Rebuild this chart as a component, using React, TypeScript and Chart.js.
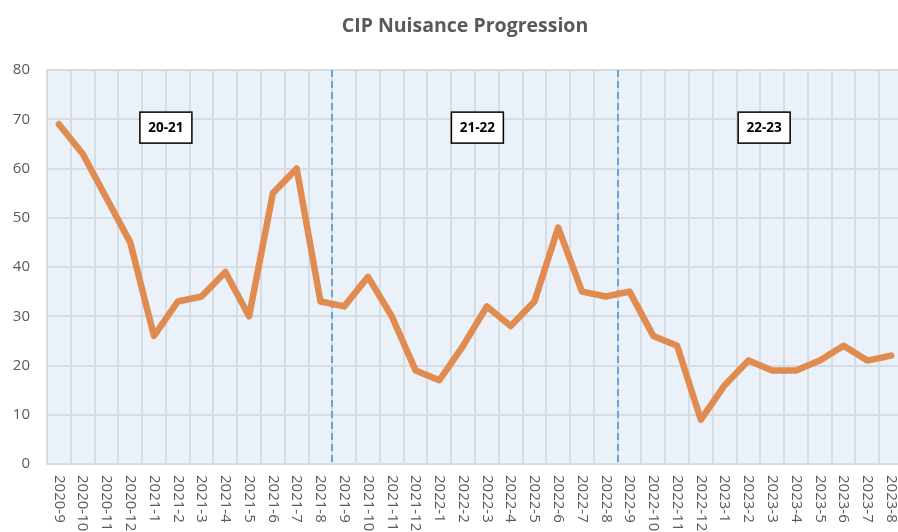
import React, { useEffect, useRef } from "react";
import { Chart, registerables } from "chart.js";

Chart.register(...registerables);

const chartTitle = "CIP Nuisance Progression";

const months: string[] = [
  "2020-9", "2020-10", "2020-11", "2020-12",
  "2021-1", "2021-2", "2021-3", "2021-4", "2021-5", "2021-6", "2021-7", "2021-8",
  "2021-9", "2021-10", "2021-11", "2021-12",
  "2022-1", "2022-2", "2022-3", "2022-4", "2022-5", "2022-6", "2022-7", "2022-8",
  "2022-9", "2022-10", "2022-11", "2022-12",
  "2023-1", "2023-2", "2023-3", "2023-4", "2023-5", "2023-6", "2023-7", "2023-8",
];

const nuisance: number[] = [
  69, 63, 54, 45,
  26, 33, 34, 39, 30, 55, 60, 33,
  32, 38, 30, 19,
  17, 24, 32, 28, 33, 48, 35, 34,
  35, 26, 24, 9,
  16, 21, 19, 19, 21, 24, 21, 22,
];

const seasonLabels: string[] = ["20-21", "21-22", "22-23"];
// category index (fractional) where each season label sits
const seasonLabelAt: number[] = [4.5, 17.6, 29.66];
const seasonLabelValue = 68.3;
// boundaries between seasons (between 2021-8/2021-9 and 2022-8/2022-9)
const seasonBreaks: number[] = [11.5, 23.5];

const yTicksMin = 0;
const yTicksMax = 80;
const yStep = 10;

const TEXT = "#595959";
const GRID = "#D5DCE4";
const PLOT_BG = "#EAF1F9";
const LINE = "#E08B50";
const DIVIDER = "#6AA3DA";

export default function App() {
  const ref = useRef<HTMLCanvasElement | null>(null);

  useEffect(() => {
    if (!ref.current) return;

    const bgPlugin = {
      id: "plotBg",
      beforeDraw(chart: any) {
        const { ctx, chartArea } = chart;
        ctx.save();
        ctx.fillStyle = PLOT_BG;
        ctx.fillRect(chartArea.left, chartArea.top, chartArea.right - chartArea.left, chartArea.bottom - chartArea.top);
        // title, centred as in the original (over the full chart frame)
        ctx.fillStyle = TEXT;
        ctx.font = "bold 19.5px 'Open Sans'";
        ctx.textAlign = "center";
        ctx.textBaseline = "middle";
        ctx.fillText(chartTitle, 465, 26);
        ctx.restore();
      },
    };

    const dividerPlugin = {
      id: "dividers",
      beforeDatasetsDraw(chart: any) {
        const { ctx, chartArea, scales } = chart;
        ctx.save();
        ctx.strokeStyle = DIVIDER;
        ctx.lineWidth = 2;
        ctx.setLineDash([7, 4]);
        for (const b of seasonBreaks) {
          const x = Math.round(scales.x.getPixelForValue(b));
          ctx.beginPath();
          ctx.moveTo(x, chartArea.top);
          ctx.lineTo(x, chartArea.bottom);
          ctx.stroke();
        }
        ctx.restore();
      },
    };

    const labelsPlugin = {
      id: "labelsAndBoxes",
      afterDraw(chart: any) {
        const { ctx, chartArea, scales } = chart;
        ctx.save();
        // rotated x labels (reading top to bottom)
        ctx.fillStyle = TEXT;
        ctx.font = "15px 'Open Sans'";
        ctx.textAlign = "left";
        ctx.textBaseline = "middle";
        months.forEach((m, i) => {
          const x = scales.x.getPixelForValue(i);
          ctx.save();
          ctx.translate(x, chartArea.bottom + 11);
          ctx.rotate(Math.PI / 2);
          ctx.fillText(m, 0, 0);
          ctx.restore();
        });
        // season boxes
        seasonLabels.forEach((t, i) => {
          const cx = scales.x.getPixelForValue(seasonLabelAt[i]);
          const cy = scales.y.getPixelForValue(seasonLabelValue);
          const w = 52;
          const h = 31;
          ctx.fillStyle = "#FFFFFF";
          ctx.fillRect(cx - w / 2, cy - h / 2, w, h);
          ctx.strokeStyle = "#000000";
          ctx.lineWidth = 1.5;
          ctx.strokeRect(cx - w / 2, cy - h / 2, w, h);
          ctx.fillStyle = "#000000";
          ctx.font = "bold 13.5px 'Open Sans'";
          ctx.textAlign = "center";
          ctx.textBaseline = "middle";
          ctx.fillText(t, cx, cy + 1);
        });
        ctx.restore();
      },
    };

    const chart = new Chart(ref.current, {
      type: "line",
      data: {
        labels: months,
        datasets: [
          {
            label: "CIP Nuisance",
            data: nuisance,
            borderColor: LINE,
            backgroundColor: LINE,
            borderWidth: 6.5,
            pointRadius: 0,
            pointHoverRadius: 0,
            tension: 0,
            borderJoinStyle: "round",
            borderCapStyle: "round",
          },
        ],
      },
      options: {
        responsive: false,
        animation: false,
        devicePixelRatio: 1,
        layout: { padding: { left: 0, right: 27, top: 70, bottom: 0 } },
        plugins: {
          legend: { display: false },
          tooltip: { enabled: false },
          title: { display: false },
        },
        scales: {
          x: {
            type: "category",
            offset: true,
            grid: { offset: true, color: GRID, lineWidth: 2, drawTicks: false },
            border: { color: GRID, width: 2 },
            ticks: { display: false },
            afterFit: (s: any) => {
              s.height = 68;
            },
          },
          y: {
            min: yTicksMin,
            max: yTicksMax,
            ticks: {
              stepSize: yStep,
              color: TEXT,
              font: { family: "'Open Sans'", size: 15 },
              padding: 17,
            },
            grid: { color: GRID, lineWidth: 2, drawTicks: false },
            border: { color: GRID, width: 2 },
            afterFit: (s: any) => {
              s.width = 47;
            },
          },
        },
      },
      plugins: [bgPlugin, dividerPlugin, labelsPlugin],
    });

    return () => chart.destroy();
  }, []);

  return (
    <div
      style={{
        position: "fixed",
        left: 0,
        top: 0,
        width: 898,
        height: 532,
        overflow: "hidden",
        background: "#FFFFFF",
      }}
    >
      <canvas ref={ref} width={930} height={532} style={{ display: "block" }} />
    </div>
  );
}
